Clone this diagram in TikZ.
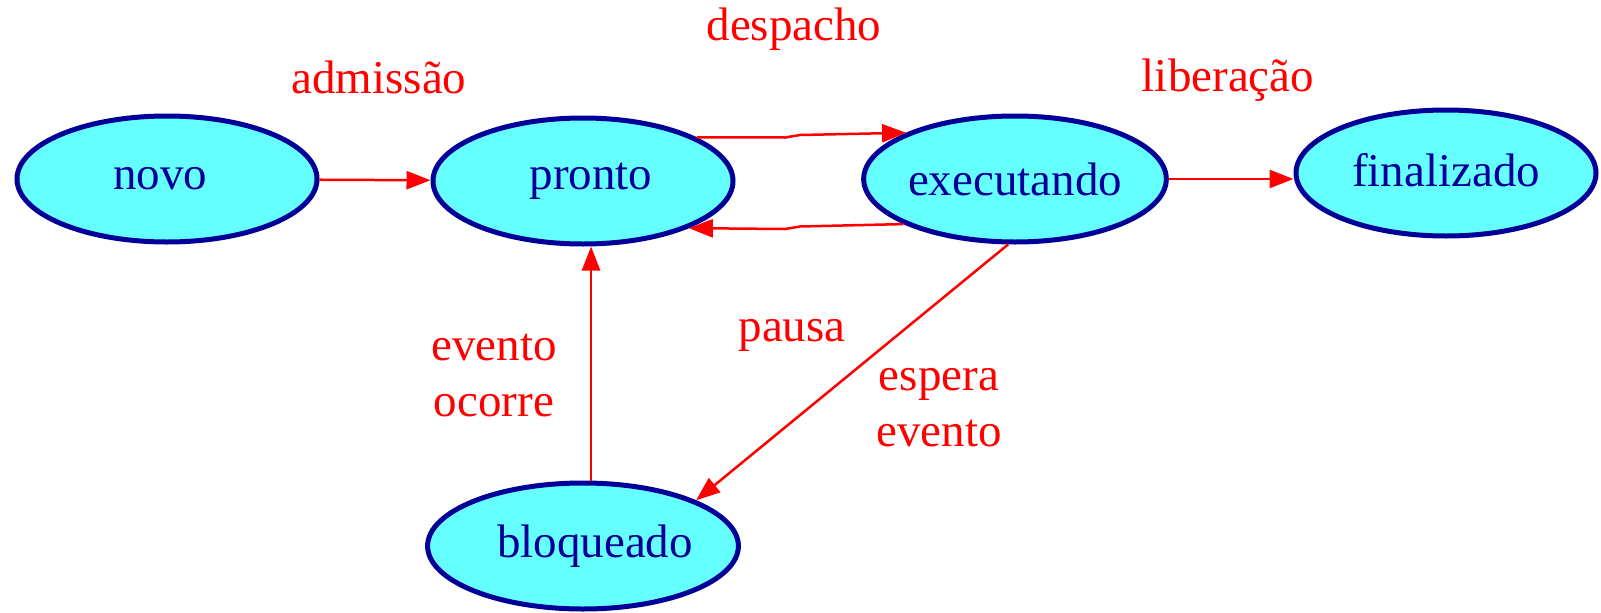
\documentclass[tikz,border=0pt]{standalone}
\usepackage{fontspec}
\setmainfont{Liberation Serif}
\usetikzlibrary{shapes.geometric,arrows.meta}
\definecolor{azulclaro}{HTML}{66FFFF}
\definecolor{azulborda}{HTML}{000099}

\begin{document}
\begin{tikzpicture}[x=1pt,y=-1pt,
	estado/.style={ellipse,draw=azulborda,fill=azulclaro,line width=5pt,
		minimum width=300pt,minimum height=126pt,inner sep=0pt,
		text=azulborda,font=\fontsize{47}{56}\selectfont},
	rotulo/.style={text=red,font=\fontsize{47}{56}\selectfont,align=center},
	trans/.style={draw=red,line width=2.5pt,-{Triangle[length=24pt,width=18pt]}}]
	\useasboundingbox (0,0) rectangle (1601,613);
	% estados
	\node[estado] (novo) at (167,179) {novo\hspace*{14pt}};
	\node[estado] (pronto) at (583,181) {\hspace*{16pt}pronto};
	\node[estado] (executando) at (1015,179) {executando};
	\node[estado] (finalizado) at (1446,173) {\raisebox{6pt}{finalizado}};
	\node[estado] (bloqueado) at (583,546) {\hspace*{24pt}bloqueado};
	% rotulos
	\node[rotulo] (admissao) at (379,77) {admissão};
	\node[rotulo] (despacho) at (794,29) {despacho};
	\node[rotulo] (liberacao) at (1228,80) {liberação};
	\node[rotulo] (ocorre) at (494,375) {evento\\ocorre};
	\node[rotulo] (pausa) at (792,335) {pausa};
	\node[rotulo] (espera) at (939,408) {espera\\evento};
	% transicoes
	\coordinate (ida1) at (785,137.5);
	\coordinate (ida2) at (800,135);
	\coordinate (volta1) at (800,226.5);
	\coordinate (volta2) at (785,229);
	\draw[trans] (novo) -- (pronto);
	\draw[trans] (pronto.21) -- (ida1) -- (ida2) -- (executando.157);
	\draw[trans] (executando.202) -- (volta1) -- (volta2) -- (pronto.336);
	\draw[trans] (executando) -- (finalizado.west |- executando);
	\draw[trans] (executando.264) -- (bloqueado.22);
	\draw[trans] (bloqueado.83) -- (bloqueado.83 |- pronto.south);
\end{tikzpicture}
\end{document}
